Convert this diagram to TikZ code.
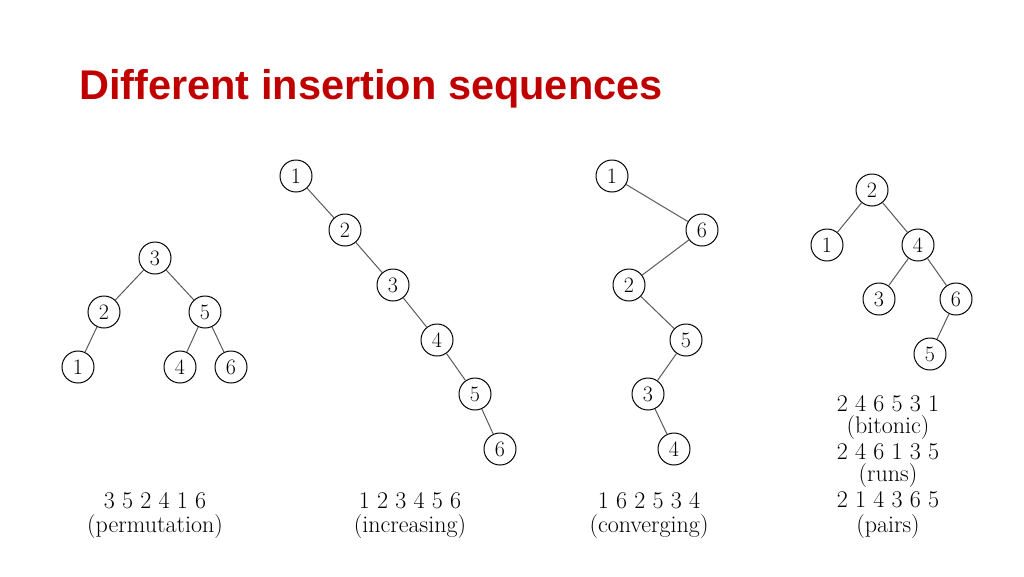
\documentclass[tikz,border=0pt]{standalone}
\usepackage{fontspec}
\newfontfamily\titlefont{Liberation Sans}
\definecolor{titlered}{RGB}{192,0,0}
\begin{document}
\begin{tikzpicture}[x=1pt,y=-1pt,
  nd/.style={circle,draw,line width=1pt,minimum size=32pt,inner sep=0pt,font=\fontsize{22}{24}\selectfont},
  ed/.style={draw,line width=1pt,gray!70!black},
  lb/.style={font=\fontsize{24}{26}\selectfont,inner sep=0pt}]
\useasboundingbox (0,0) rectangle (1024,576);
\node[anchor=base west,inner sep=0pt,text=titlered,font=\titlefont\bfseries\fontsize{41.5}{44}\selectfont] (title) at (79,99) {Different insertion sequences};
% tree 1
\node[nd] (a3) at (155,258) {3};
\node[nd] (a2) at (104,312) {2};
\node[nd] (a5) at (205,312) {5};
\node[nd] (a1) at (78,367) {1};
\node[nd] (a4) at (180,367) {4};
\node[nd] (a6) at (231,367) {6};
\draw[ed] (a3)--(a2) (a3)--(a5) (a2)--(a1) (a5)--(a4) (a5)--(a6);
\node[lb] (la1) at (155,501) {3 5 2 4 1 6};
\node[lb] (la2) at (155,527) {(permutation)};
% tree 2
\node[nd] (b1) at (296,176) {1};
\node[nd] (b2) at (345,230) {2};
\node[nd] (b3) at (393,285) {3};
\node[nd] (b4) at (437,340) {4};
\node[nd] (b5) at (475,394) {5};
\node[nd] (b6) at (500,449) {6};
\draw[ed] (b1)--(b2) (b2)--(b3) (b3)--(b4) (b4)--(b5) (b5)--(b6);
\node[lb] (lb1) at (410,501) {1 2 3 4 5 6};
\node[lb] (lb2) at (410,527) {(increasing)};
% tree 3
\node[nd] (c1) at (612,176) {1};
\node[nd] (c6) at (702,230) {6};
\node[nd] (c2) at (629,285) {2};
\node[nd] (c5) at (686,340) {5};
\node[nd] (c3) at (648,394) {3};
\node[nd] (c4) at (674,449) {4};
\draw[ed] (c1)--(c6) (c6)--(c2) (c2)--(c5) (c5)--(c3) (c3)--(c4);
\node[lb] (lc1) at (649,501) {1 6 2 5 3 4};
\node[lb] (lc2) at (649,527) {(converging)};
% tree 4
\node[nd] (d2) at (872,190) {2};
\node[nd] (d1) at (827,245) {1};
\node[nd] (d4) at (918,245) {4};
\node[nd] (d3) at (879,299) {3};
\node[nd] (d6) at (956,299) {6};
\node[nd] (d5) at (930,354) {5};
\draw[ed] (d2)--(d1) (d2)--(d4) (d4)--(d3) (d4)--(d6) (d6)--(d5);
\node[lb] (ld1) at (888,404) {2 4 6 5 3 1};
\node[lb] (ld2) at (888,428) {(bitonic)};
\node[lb] (ld3) at (888,452) {2 4 6 1 3 5};
\node[lb] (ld4) at (888,476) {(runs)};
\node[lb] (ld5) at (888,500) {2 1 4 3 6 5};
\node[lb] (ld6) at (888,527) {(pairs)};
\end{tikzpicture}
\end{document}
